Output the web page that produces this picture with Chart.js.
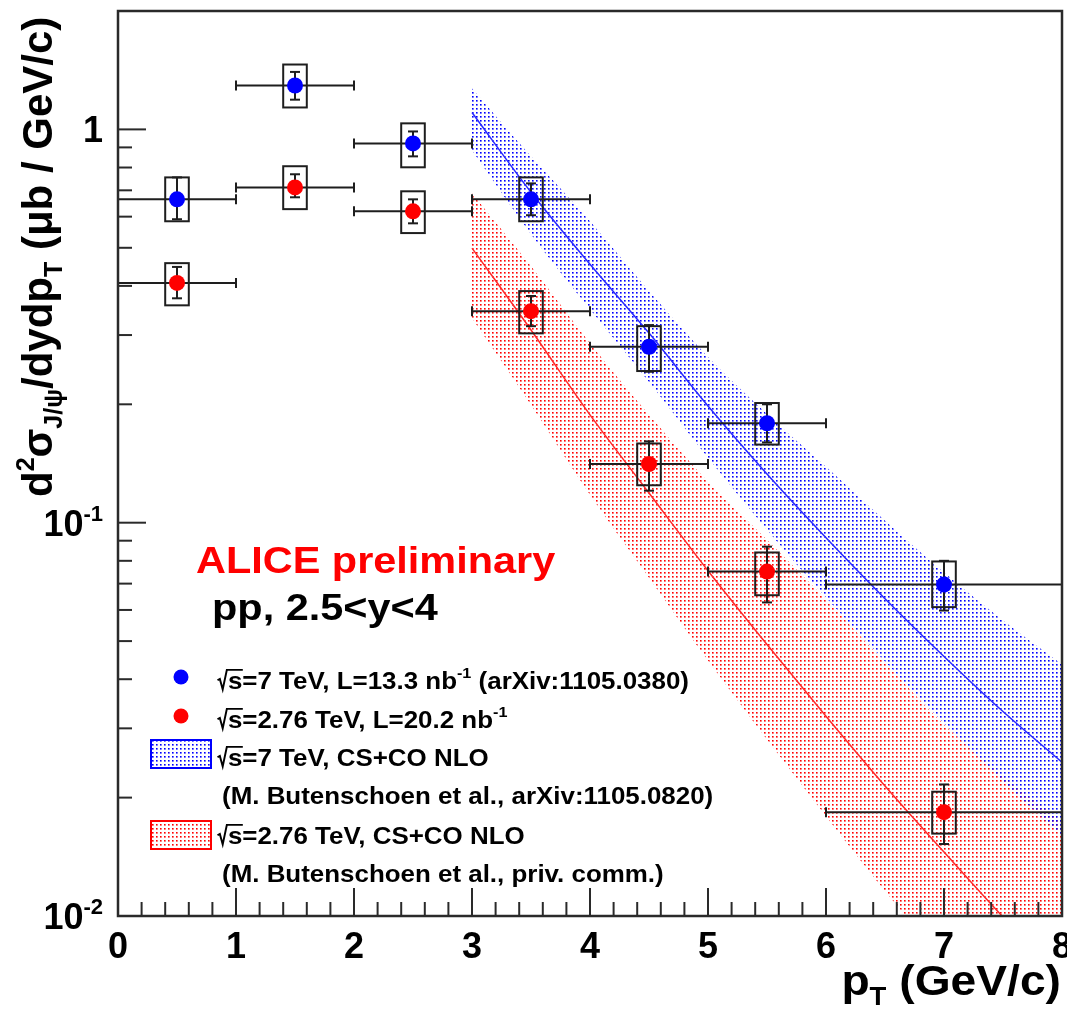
<!DOCTYPE html>
<html><head><meta charset="utf-8">
<script src="https://cdn.jsdelivr.net/npm/chart.js@4.4.1/dist/chart.umd.min.js"></script>
<style>html,body{margin:0;padding:0;background:#fff}canvas{display:block}</style>
</head><body>
<canvas id="c" width="1067" height="1014"></canvas>
<script>
// ---------------- data ----------------
const ptCenter = [0.5, 1.5, 2.5, 3.5, 4.5, 5.5, 7.0];
const ptLow    = [0, 1, 2, 3, 4, 5, 6];
const ptHigh   = [1, 2, 3, 4, 5, 6, 8];

const sigma7     = [0.664, 1.293, 0.921, 0.664, 0.280, 0.179, 0.0696];
const stat7Low   = [0.591, 1.19, 0.854, 0.605, 0.242, 0.160, 0.0598];
const stat7High  = [0.755, 1.40, 0.988, 0.729, 0.318, 0.200, 0.080];
const sys7Low    = [0.584, 1.137, 0.801, 0.584, 0.243, 0.158, 0.0610];
const sys7High   = [0.755, 1.462, 1.036, 0.755, 0.316, 0.2015, 0.0797];

const sigma276    = [0.407, 0.712, 0.619, 0.345, 0.141, 0.0751, 0.01837];
const stat276Low  = [0.372, 0.672, 0.577, 0.316, 0.1206, 0.0627, 0.01524];
const stat276High = [0.447, 0.769, 0.664, 0.377, 0.161, 0.0869, 0.0216];
const sys276Low   = [0.357, 0.627, 0.545, 0.303, 0.1245, 0.0654, 0.0162];
const sys276High  = [0.457, 0.806, 0.696, 0.388, 0.159, 0.0840, 0.0207];

const theoryPt   = [3, 3.5, 4, 4.5, 5, 5.5, 6, 6.5, 7, 7.5, 8];
const th7Central = [1.104, 0.692, 0.454, 0.3035, 0.198, 0.133, 0.0916, 0.0641, 0.0457, 0.0331, 0.0246];
const th7Upper   = [1.271, 0.854, 0.584, 0.388, 0.264, 0.189, 0.1387, 0.1012, 0.0747, 0.0564, 0.0436];
const th7Lower   = [0.885, 0.5415, 0.349, 0.228, 0.1462, 0.0960, 0.0645, 0.0444, 0.0309, 0.0220, 0.01596];
const th276Central = [0.499, 0.309, 0.188, 0.119, 0.0755, 0.0490, 0.0322, 0.0214, 0.01454, 0.00994, 0.00692];
const th276Upper   = [0.688, 0.449, 0.286, 0.188, 0.127, 0.0905, 0.0638, 0.0441, 0.0307, 0.02266, 0.01742];
const th276Lower   = [0.3314, 0.1993, 0.1178, 0.0725, 0.0446, 0.0281, 0.01794, 0.01158, 0.00764, 0.00508, 0.00343];

const xTickValues = [0, 1, 2, 3, 4, 5, 6, 7, 8];
const xTickLabels = ['0', '1', '2', '3', '4', '5', '6', '7', '8'];
const yTickValues = [0.01, 0.1, 1];
const yTickBase   = ['10', '10', '1'];
const yTickExp    = ['-2', '-1', ''];

// ---------------- helpers ----------------
const FONT = '"Liberation Sans", Arial, Helvetica, sans-serif';
const fnt = s => 'bold ' + s + 'px ' + FONT;
const BOX_HALF = 0.1;

function segWidth(c, s) {
  if (s.rad) return s.size * 0.42;
  c.font = fnt(s.size);
  return c.measureText(s.t).width;
}
function drawRich(c, segs, x, y, o) {
  o = o || {};
  c.save();
  c.translate(x, y);
  if (o.rot) c.rotate(o.rot);
  c.scale(o.sx || 1, o.sy || 1);
  let w = 0; for (const s of segs) w += segWidth(c, s);
  let cx = o.align === 'right' ? -w : (o.align === 'center' ? -w / 2 : 0);
  c.textAlign = 'left';
  c.textBaseline = o.baseline || 'alphabetic';
  for (let i = 0; i < segs.length; i++) {
    const s = segs[i];
    const col = s.color || o.color || '#000';
    if (s.rad) {
      const F = s.size;
      const nxt = segs[i + 1];
      const nw = nxt ? segWidth(c, nxt) : 0;
      c.strokeStyle = col; c.lineWidth = F * 0.075; c.lineJoin = 'miter';
      c.beginPath();
      c.moveTo(cx + 0.02 * F, -0.36 * F);
      c.lineTo(cx + 0.11 * F, -0.42 * F);
      c.lineTo(cx + 0.22 * F, 0.02 * F);
      c.lineTo(cx + 0.38 * F, -0.80 * F);
      c.lineTo(cx + 0.42 * F + nw + 0.02 * F, -0.80 * F);
      c.stroke();
      cx += 0.42 * F;
      continue;
    }
    c.font = fnt(s.size);
    c.fillStyle = col;
    c.fillText(s.t, cx, s.dy || 0);
    cx += c.measureText(s.t).width;
  }
  c.restore();
}

function drawErrors(chart) {
  const xs = chart.scales.x, ys = chart.scales.y, c = chart.ctx;
  const series = [
    [sigma276, stat276Low, stat276High, sys276Low, sys276High],
    [sigma7, stat7Low, stat7High, sys7Low, sys7High]
  ];
  c.save();
  c.strokeStyle = '#1e1e1e';
  c.lineWidth = 2;
  const ln = (a, b, d, e) => { c.beginPath(); c.moveTo(a, b); c.lineTo(d, e); c.stroke(); };
  for (const [v, sl, sh, yl, yh] of series) {
    for (let i = 0; i < v.length; i++) {
      const px = xs.getPixelForValue(ptCenter[i]);
      const py = ys.getPixelForValue(v[i]);
      const x0 = xs.getPixelForValue(ptLow[i]), x1 = xs.getPixelForValue(ptHigh[i]);
      ln(x0, py, x1, py);
      ln(x0, py - 5, x0, py + 5);
      ln(x1, py - 5, x1, py + 5);
      const s0 = ys.getPixelForValue(sl[i]), s1 = ys.getPixelForValue(sh[i]);
      ln(px, s0, px, s1);
      ln(px - 5, s0, px + 5, s0);
      ln(px - 5, s1, px + 5, s1);
      const bx0 = xs.getPixelForValue(ptCenter[i] - BOX_HALF), bx1 = xs.getPixelForValue(ptCenter[i] + BOX_HALF);
      const by0 = ys.getPixelForValue(yh[i]), by1 = ys.getPixelForValue(yl[i]);
      c.strokeRect(bx0, by0, bx1 - bx0, by1 - by0);
    }
  }
  c.restore();
}

function drawFrameAndTicks(chart) {
  const xs = chart.scales.x, ys = chart.scales.y, c = chart.ctx, a = chart.chartArea;
  c.save();
  c.strokeStyle = '#2a2a2a';
  c.lineWidth = 2;
  const ln = (p, q, r, s) => { c.beginPath(); c.moveTo(p, q); c.lineTo(r, s); c.stroke(); };
  for (let k = 0; k <= 40; k++) {
    const px = xs.getPixelForValue(k / 5);
    ln(px, a.bottom, px, a.bottom - (k % 5 === 0 ? 28 : 14));
  }
  for (let e = -2; e <= 0; e++) {
    for (let m = 1; m <= 9; m++) {
      const v = m * Math.pow(10, e);
      if (v > ys.max + 1e-9) continue;
      const py = ys.getPixelForValue(v);
      ln(a.left, py, a.left + (m === 1 ? 28 : 14), py);
    }
  }
  c.lineWidth = 2.5;
  c.strokeRect(a.left, a.top, a.right - a.left, a.bottom - a.top);
  c.restore();

  for (let i = 0; i < xTickValues.length; i++) {
    drawRich(c, [{t: xTickLabels[i], size: 36}], xs.getPixelForValue(xTickValues[i]), 958, {align: 'center'});
  }
  for (let i = 0; i < yTickValues.length; i++) {
    const py = ys.getPixelForValue(yTickValues[i]);
    const segs = [{t: yTickBase[i], size: 36}];
    if (yTickExp[i]) segs.push({t: yTickExp[i], size: 22, dy: -15});
    drawRich(c, segs, 103, py + 13, {align: 'right'});
  }
}

function drawTexts(chart) {
  const c = chart.ctx;
  drawRich(c, [
    {t: 'p', size: 42}, {t: 'T', size: 25, dy: 10}, {t: ' (GeV/c)', size: 42}
  ], 1061, 995, {align: 'right', sx: 1.1});
  drawRich(c, [
    {t: 'd', size: 42}, {t: '2', size: 25, dy: -18}, {t: 'σ', size: 42},
    {t: 'J/ψ', size: 25, dy: 10}, {t: '/dydp', size: 42}, {t: 'T', size: 25, dy: 10},
    {t: ' (μb / GeV/c)', size: 42}
  ], 52, 497, {rot: -Math.PI / 2});
  drawRich(c, [{t: 'ALICE preliminary', size: 37}], 196, 573, {sx: 1.12, color: '#ff0000'});
  drawRich(c, [{t: 'pp, 2.5<y<4', size: 37}], 212, 620, {sx: 1.12});
}

function drawLegend(chart) {
  const c = chart.ctx;
  const F = 24, SX = 1.08, SUP = 15;
  c.save();
  c.fillStyle = '#0000ff';
  c.beginPath(); c.arc(181, 677, 7.5, 0, Math.PI * 2); c.fill();
  c.fillStyle = '#ff0000';
  c.beginPath(); c.arc(181, 716, 7.5, 0, Math.PI * 2); c.fill();
  c.fillStyle = bluePat; c.fillRect(151, 740, 60, 28);
  c.strokeStyle = '#0000ff'; c.lineWidth = 2; c.strokeRect(151, 740, 60, 28);
  c.fillStyle = redPat; c.fillRect(151, 821, 60, 28);
  c.strokeStyle = '#ff0000'; c.strokeRect(151, 821, 60, 28);
  c.restore();
  const rs = [{rad: true, size: F}, {t: 's', size: F}];
  drawRich(c, rs.concat([{t: '=7 TeV, L=13.3 nb', size: F}, {t: '-1', size: SUP, dy: -11}, {t: ' (arXiv:1105.0380)', size: F}]), 217, 689, {sx: SX});
  drawRich(c, rs.concat([{t: '=2.76 TeV, L=20.2 nb', size: F}, {t: '-1', size: SUP, dy: -11}]), 217, 728, {sx: SX});
  drawRich(c, rs.concat([{t: '=7 TeV, CS+CO NLO', size: F}]), 217, 766, {sx: SX});
  drawRich(c, [{t: '(M. Butenschoen et al., arXiv:1105.0820)', size: F}], 222, 804, {sx: SX});
  drawRich(c, rs.concat([{t: '=2.76 TeV, CS+CO NLO', size: F}]), 217, 844, {sx: SX});
  drawRich(c, [{t: '(M. Butenschoen et al., priv. comm.)', size: F}], 222, 882, {sx: SX});
}

// ---------------- chart ----------------
const canvas = document.getElementById('c');
const ctx0 = canvas.getContext('2d');
function makePattern(r, g, b) {
  const p = document.createElement('canvas');
  p.width = 4; p.height = 4;
  const q = p.getContext('2d');
  const col = a => 'rgba(' + r + ',' + g + ',' + b + ',' + a + ')';
  q.fillStyle = col(1.0); q.fillRect(0, 0, 1, 1);
  q.fillStyle = col(0.6); q.fillRect(1, 0, 1, 1); q.fillRect(0, 1, 1, 1);
  q.fillStyle = col(0.4); q.fillRect(1, 1, 1, 1);
  return ctx0.createPattern(p, 'repeat');
}
const bluePat = makePattern(0, 0, 255);
const redPat = makePattern(255, 0, 0);
const pts = (xs, ys) => xs.map((x, i) => ({x: x, y: ys[i]}));
const NONE = 'rgba(0,0,0,0)';

const overlay = {
  id: 'overlay',
  beforeDatasetDraw(chart, args) { if (args.index === 1) drawErrors(chart); },
  afterDraw(chart) { drawFrameAndTicks(chart); drawTexts(chart); drawLegend(chart); }
};

new Chart(canvas, {
  type: 'line',
  data: {
    datasets: [
      {label: 'sqrt(s)=7 TeV data', data: pts(ptCenter, sigma7), showLine: false, pointRadius: 8,
       pointBackgroundColor: '#0000ff', pointBorderWidth: 0, pointBorderColor: '#0000ff', order: 0},
      {label: 'sqrt(s)=2.76 TeV data', data: pts(ptCenter, sigma276), showLine: false, pointRadius: 8,
       pointBackgroundColor: '#ff0000', pointBorderWidth: 0, pointBorderColor: '#ff0000', order: 1},
      {label: '7 TeV NLO', data: pts(theoryPt, th7Central), borderColor: '#2a2aff', borderWidth: 1.5,
       pointRadius: 0, fill: false, cubicInterpolationMode: 'monotone', order: 2},
      {label: '7 TeV NLO upper', data: pts(theoryPt, th7Upper), borderColor: NONE, borderWidth: 1,
       pointRadius: 0, fill: '+1', backgroundColor: bluePat, cubicInterpolationMode: 'monotone', order: 3},
      {label: '7 TeV NLO lower', data: pts(theoryPt, th7Lower), borderColor: NONE, borderWidth: 1,
       pointRadius: 0, fill: false, cubicInterpolationMode: 'monotone', order: 4},
      {label: '2.76 TeV NLO', data: pts(theoryPt, th276Central), borderColor: '#ff2a2a', borderWidth: 1.5,
       pointRadius: 0, fill: false, cubicInterpolationMode: 'monotone', order: 5},
      {label: '2.76 TeV NLO upper', data: pts(theoryPt, th276Upper), borderColor: NONE, borderWidth: 1,
       pointRadius: 0, fill: '+1', backgroundColor: redPat, cubicInterpolationMode: 'monotone', order: 6},
      {label: '2.76 TeV NLO lower', data: pts(theoryPt, th276Lower), borderColor: NONE, borderWidth: 1,
       pointRadius: 0, fill: false, cubicInterpolationMode: 'monotone', order: 7}
    ]
  },
  options: {
    responsive: false,
    animation: false,
    devicePixelRatio: 1,
    layout: {padding: {left: 0, right: 5, top: 11, bottom: 0}, autoPadding: false},
    plugins: {legend: {display: false}, tooltip: {enabled: false}},
    scales: {
      x: {type: 'linear', min: 0, max: 8, grid: {display: false}, border: {display: false},
          ticks: {display: false}, afterFit(s) { s.height = 98; }},
      y: {type: 'logarithmic', min: 0.01, max: 2, grid: {display: false}, border: {display: false},
          ticks: {display: false}, afterFit(s) { s.width = 118; }}
    }
  },
  plugins: [overlay]
});
</script>
</body></html>
